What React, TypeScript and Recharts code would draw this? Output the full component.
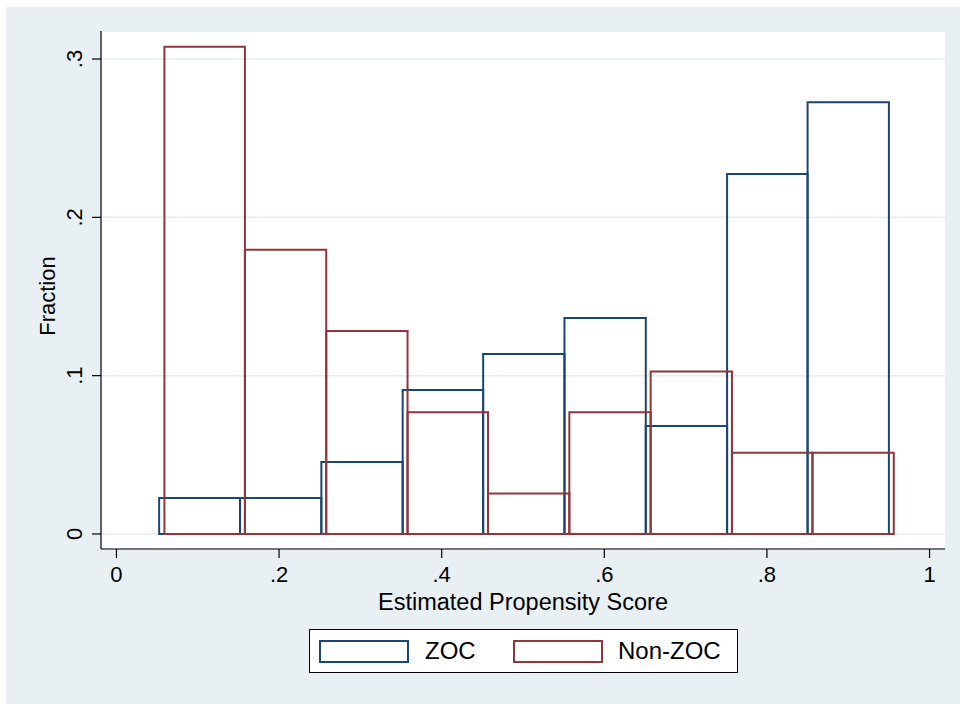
import React from 'react';
import { ComposedChart, XAxis, YAxis, CartesianGrid, ReferenceArea, Label } from 'recharts';

// histogram bin edges (lower edge of each bin + final upper edge) and fractions
const zocEdges = [0.0525, 0.152, 0.252, 0.352, 0.451, 0.551, 0.651, 0.751, 0.85, 0.95];
const zocFraction = [0.0227, 0.0227, 0.0455, 0.0909, 0.1136, 0.1364, 0.0682, 0.2273, 0.2727];
const nonZocEdges = [0.059, 0.158, 0.258, 0.358, 0.457, 0.557, 0.657, 0.757, 0.856, 0.956];
const nonZocFraction = [0.3077, 0.1795, 0.1282, 0.0769, 0.0256, 0.0769, 0.1026, 0.0513, 0.0513];
const xTicks = [0, 0.2, 0.4, 0.6, 0.8, 1];
const yTicks = [0, 0.1, 0.2, 0.3];
const seriesNames = ['ZOC', 'Non-ZOC'];

const BLUE = '#1a476f';
const RED = '#90353b';
const BG = '#e9f0f3';
const FONT = '"Liberation Sans", Arial, Helvetica, sans-serif';
const FS = 22;

const fmt = (v: number) => (v === 0 ? '0' : v === 1 ? '1' : String(v).replace(/^0/, ''));

const YTick = (props: any) => {
    const { x, y, payload } = props;
    return (
        <text x={x} y={y} transform={`rotate(-90 ${x} ${y})`} textAnchor="middle"
              fontSize={FS} fontFamily={FONT} fill="#000">
            {fmt(payload.value)}
        </text>
    );
};

function bins(edges: number[], values: number[]) {
    return values.map((v, i) => ({ x1: edges[i], x2: edges[i + 1], y: v }));
}

export default function App() {
    const zoc = bins(zocEdges, zocFraction);
    const nonZoc = bins(nonZocEdges, nonZocFraction);
    return (
        <div style={{ position: 'absolute', left: 0, top: 0, width: 960, height: 704, background: '#fff', fontFamily: FONT }}>
            <div style={{ position: 'absolute', left: 6, top: 7, right: 0, bottom: 0, background: BG }} />
            <div style={{ position: 'absolute', left: 0, top: 0 }}>
                <ComposedChart width={960} height={704} margin={{ top: 31, right: 15, left: 41, bottom: 115 }}>
                    <CartesianGrid vertical={false} stroke="#e3ecef" strokeWidth={1.5} fill="#fff" />
                    <XAxis type="number" dataKey="x" domain={[-0.019, 1.019]} ticks={xTicks} height={40}
                           allowDataOverflow tickFormatter={fmt} tickSize={9} tickMargin={8}
                           axisLine={{ stroke: '#000', strokeWidth: 1.2 }} tickLine={{ stroke: '#000', strokeWidth: 1.2 }}
                           tick={{ fill: '#000', fontSize: FS, fontFamily: FONT }}>
                        <Label content={() => (
                            <text x={523} y={610} textAnchor="middle" fontSize={23.5} fontFamily={FONT} fill="#000">
                                Estimated Propensity Score
                            </text>
                        )} />
                    </XAxis>
                    <YAxis type="number" domain={[-0.0095, 0.3177]} ticks={yTicks} width={60}
                           allowDataOverflow tickSize={9} tickMargin={10}
                           axisLine={{ stroke: '#000', strokeWidth: 1.2 }} tickLine={{ stroke: '#000', strokeWidth: 1.2 }}
                           tick={<YTick />}>
                        <Label content={() => (
                            <text x={55} y={296} transform="rotate(-90 55 296)" textAnchor="middle"
                                  fontSize={FS} fontFamily={FONT} fill="#000">
                                Fraction
                            </text>
                        )} />
                    </YAxis>
                    {zoc.map((b, i) => (
                        <ReferenceArea key={'z' + i} x1={b.x1} x2={b.x2} y1={0} y2={b.y}
                                       fill="none" fillOpacity={0} stroke={BLUE} strokeWidth={2} ifOverflow="visible" />
                    ))}
                    {nonZoc.map((b, i) => (
                        <ReferenceArea key={'n' + i} x1={b.x1} x2={b.x2} y1={0} y2={b.y}
                                       fill="none" fillOpacity={0} stroke={RED} strokeWidth={2} ifOverflow="visible" />
                    ))}
                </ComposedChart>
            </div>
            <div style={{ position: 'absolute', left: 309, top: 629, width: 429, height: 44, boxSizing: 'border-box',
                          border: '1px solid #000', background: '#fff', fontSize: FS + 2, color: '#000' }}>
                <div style={{ position: 'absolute', left: 9, top: 10, width: 90, height: 23, boxSizing: 'border-box', border: `2px solid ${BLUE}` }} />
                <div style={{ position: 'absolute', left: 115, top: 7, lineHeight: '28px' }}>{seriesNames[0]}</div>
                <div style={{ position: 'absolute', left: 203, top: 10, width: 90, height: 23, boxSizing: 'border-box', border: `2px solid ${RED}` }} />
                <div style={{ position: 'absolute', left: 308, top: 7, lineHeight: '28px' }}>{seriesNames[1]}</div>
            </div>
        </div>
    );
}
